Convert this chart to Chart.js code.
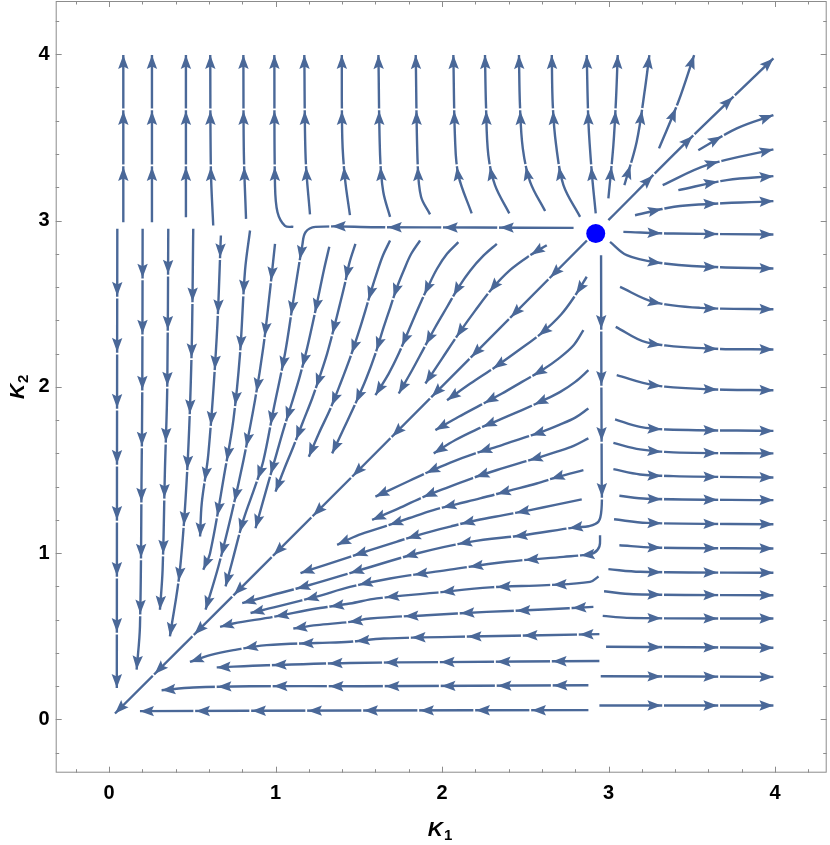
<!DOCTYPE html>
<html>
<head>
<meta charset="utf-8">
<script src="https://cdn.jsdelivr.net/npm/chart.js@4.4.1/dist/chart.umd.min.js"></script>
<style>
  html, body { margin: 0; padding: 0; background: #fff; }
</style>
</head>
<body>
<canvas id="chartStream" width="830" height="845"></canvas>
<script>
// ---- data ----
const xTicks = [0, 1, 2, 3, 4];
const yTicks = [0, 1, 2, 3, 4];
const minorStep = 0.2;
const fixedPoint = [{ x: 2.923, y: 2.922 }];

// main diagonal, out of the fixed point both ways
const diagonalLines = [
  [[2.87, 2.88], [1.5, 1.5], [0.036, 0.036]],
  [[2.999, 3.002], [3.47, 3.474], [3.99, 3.975]],
];

// above the diagonal, flowing down toward the origin
const downLines = [
  [[0.05, 2.95], [0.048, 1.5], [0.047, 0.19]],
  [[0.202, 2.95], [0.2, 2.0], [0.196, 1.5], [0.186, 0.56], [0.166, 0.3]],
  [[0.356, 2.95], [0.35, 2.0], [0.336, 1.5], [0.322, 0.9], [0.306, 0.66]],
  [[0.506, 2.95], [0.496, 2.2], [0.47, 1.5], [0.426, 0.9], [0.366, 0.5]],
  [[0.672, 2.91], [0.647, 2.3], [0.597, 1.6], [0.557, 1.3], [0.547, 1.1]],
  [[0.847, 2.94], [0.817, 2.7], [0.787, 2.2], [0.747, 1.8], [0.697, 1.5], [0.607, 1.0], [0.566, 0.9]],
  [[0.997, 2.86], [0.967, 2.58], [0.927, 2.24], [0.877, 1.92], [0.807, 1.556], [0.737, 1.24], [0.657, 0.92], [0.58, 0.66]],
  [[2.79, 2.956], [2.2, 2.958], [1.6, 2.96], [1.24, 2.962], [1.18, 2.93], [1.161, 2.852], [1.107, 2.52], [1.057, 2.2],
   [0.987, 1.858], [0.927, 1.556], [0.877, 1.4], [0.807, 1.2], [0.74, 0.95], [0.7, 0.8]],
  [[1.323, 2.842], [1.29, 2.7], [1.257, 2.541], [1.225, 2.39], [1.187, 2.221], [1.145, 2.06], [1.097, 1.9],
   [1.05, 1.75], [1.007, 1.6], [0.95, 1.4], [0.88, 1.15]],
  [[1.48, 2.86], [1.445, 2.75], [1.417, 2.622], [1.385, 2.49], [1.35, 2.35], [1.31, 2.2], [1.265, 2.06],
   [1.22, 1.93], [1.165, 1.79], [1.107, 1.64], [1.05, 1.5], [1.0, 1.37]],
  [[1.688, 2.88], [1.645, 2.79], [1.61, 2.69], [1.575, 2.58], [1.54, 2.46], [1.5, 2.33], [1.45, 2.18],
   [1.39, 2.02], [1.33, 1.87], [1.26, 1.72], [1.2, 1.58]],
  [[1.868, 2.88], [1.815, 2.8], [1.77, 2.7], [1.73, 2.6], [1.69, 2.48], [1.65, 2.36], [1.6, 2.2],
   [1.545, 2.05], [1.48, 1.9], [1.41, 1.75], [1.34, 1.6]],
  [[2.098, 2.87], [2.03, 2.8], [1.97, 2.71], [1.915, 2.6], [1.86, 2.48], [1.8, 2.34], [1.74, 2.2],
   [1.68, 2.08], [1.6, 1.95]],
  [[2.329, 2.86], [2.25, 2.79], [2.17, 2.7], [2.1, 2.6], [2.03, 2.48], [1.96, 2.36], [1.89, 2.23],
   [1.82, 2.1], [1.74, 1.96]],
  [[2.629, 2.852], [2.52, 2.785], [2.408, 2.702], [2.3, 2.59], [2.2, 2.46], [2.1, 2.32], [2.0, 2.17], [1.9, 2.02]],
];

// below the diagonal, flowing left toward the origin
const leftLines = [
  [[2.869, 2.662], [2.8, 2.55], [2.715, 2.435], [2.6, 2.325], [2.46, 2.22], [2.32, 2.12], [2.17, 2.02], [2.03, 1.92]],
  [[2.849, 2.341], [2.79, 2.25], [2.7, 2.17], [2.6, 2.1], [2.48, 2.03], [2.36, 1.96], [2.23, 1.89], [2.1, 1.82], [1.96, 1.74]],
  [[2.879, 2.1], [2.8, 2.03], [2.71, 1.97], [2.6, 1.915], [2.48, 1.86], [2.34, 1.8], [2.2, 1.74], [2.08, 1.68], [1.95, 1.6]],
  [[2.879, 1.87], [2.8, 1.815], [2.7, 1.77], [2.6, 1.73], [2.48, 1.69], [2.36, 1.65], [2.2, 1.6], [2.05, 1.545],
   [1.9, 1.48], [1.75, 1.41], [1.6, 1.34]],
  [[2.879, 1.69], [2.79, 1.645], [2.69, 1.61], [2.58, 1.575], [2.46, 1.54], [2.33, 1.5], [2.18, 1.45], [2.02, 1.39],
   [1.87, 1.33], [1.72, 1.26], [1.58, 1.2]],
  [[2.849, 1.499], [2.7, 1.46], [2.568, 1.419], [2.4, 1.375], [2.228, 1.329], [2.09, 1.295], [1.948, 1.259],
   [1.8, 1.21], [1.648, 1.158], [1.5, 1.11], [1.37, 1.05]],
  [[2.839, 1.323], [2.68, 1.29], [2.529, 1.259], [2.37, 1.229], [2.208, 1.198], [2.05, 1.16], [1.888, 1.118],
   [1.73, 1.07], [1.568, 1.018], [1.447, 0.978], [1.3, 0.93], [1.15, 0.88]],
  [[2.955, 2.792], [2.957, 2.0], [2.959, 1.42], [2.958, 1.27], [2.94, 1.19], [2.88, 1.162], [2.8, 1.155], [2.488, 1.108],
   [2.168, 1.068], [1.848, 0.998], [1.507, 0.898], [1.2, 0.807], [0.95, 0.74], [0.8, 0.7]],
  [[2.949, 1.108], [2.945, 1.04], [2.91, 1.0], [2.849, 0.988], [2.729, 0.978], [2.389, 0.948], [2.028, 0.898],
   [1.688, 0.848], [1.447, 0.797], [1.24, 0.737], [0.92, 0.657], [0.85, 0.64]],
  [[2.94, 0.86], [2.889, 0.827], [2.629, 0.808], [2.288, 0.794], [1.948, 0.761], [1.608, 0.728], [1.447, 0.697],
   [1.247, 0.667], [0.987, 0.617], [0.747, 0.577], [0.667, 0.557]],
  [[2.909, 0.677], [2.609, 0.661], [2.268, 0.647], [1.908, 0.627], [1.568, 0.607], [1.447, 0.587], [1.247, 0.567], [1.107, 0.547]],
  [[2.945, 0.513], [2.25, 0.5], [1.65, 0.487], [1.447, 0.467], [1.25, 0.46], [0.947, 0.447], [0.747, 0.417], [0.607, 0.387], [0.486, 0.346]],
  [[2.945, 0.352], [2.0, 0.345], [1.447, 0.34], [0.947, 0.326], [0.647, 0.313]],
  [[2.879, 0.206], [1.5, 0.2], [0.847, 0.2], [0.506, 0.192], [0.316, 0.176]],
  [[2.879, 0.056], [1.5, 0.054], [0.186, 0.05]],
];

// above K2 = 2.92, flowing up
const upLines = [
  [[0.086, 2.99], [0.086, 3.995]],
  [[0.258, 2.99], [0.258, 3.995]],
  [[0.462, 3.02], [0.462, 3.995]],
  [[0.626, 2.97], [0.612, 3.3], [0.608, 3.995]],
  [[0.823, 3.01], [0.81, 3.4], [0.807, 3.995]],
  [[1.107, 2.962], [1.057, 2.968], [1.012, 3.05], [0.997, 3.213], [0.993, 3.995]],
  [[1.207, 3.037], [1.181, 3.373], [1.173, 3.995]],
  [[1.447, 3.032], [1.417, 3.253], [1.401, 3.494], [1.398, 3.995]],
  [[1.688, 3.022], [1.647, 3.173], [1.628, 3.393], [1.618, 3.995]],
  [[1.928, 3.037], [1.874, 3.143], [1.854, 3.333], [1.842, 3.995]],
  [[2.178, 3.043], [2.098, 3.273], [2.078, 3.494], [2.068, 3.995]],
  [[2.404, 3.043], [2.318, 3.213], [2.278, 3.393], [2.264, 3.694], [2.258, 3.995]],
  [[2.619, 3.057], [2.529, 3.233], [2.485, 3.434], [2.468, 3.694], [2.462, 3.995]],
  [[2.829, 3.022], [2.729, 3.213], [2.685, 3.454], [2.665, 3.694], [2.659, 3.995]],
  [[2.923, 3.043], [2.899, 3.293], [2.879, 3.594], [2.869, 3.995]],
  [[2.999, 3.133], [3.029, 3.454], [3.045, 3.734], [3.055, 3.995]],
  [[3.095, 3.213], [3.169, 3.474], [3.219, 3.794], [3.245, 3.995]],
  [[3.303, 3.434], [3.419, 3.714], [3.514, 3.995]],
];

// right of K1 = 2.92, flowing right
const rightLines = [
  [[3.539, 3.423], [3.77, 3.554], [3.99, 3.634]],
  [[3.325, 3.213], [3.59, 3.333], [3.99, 3.428]],
  [[3.419, 3.183], [3.71, 3.243], [3.99, 3.267]],
  [[3.159, 3.032], [3.429, 3.087], [3.99, 3.117]],
  [[3.089, 2.932], [3.389, 2.922], [3.99, 2.916]],
  [[3.009, 2.872], [3.109, 2.792], [3.289, 2.748], [3.59, 2.722], [3.99, 2.712]],
  [[3.069, 2.601], [3.269, 2.511], [3.55, 2.475], [3.99, 2.467]],
  [[3.043, 2.361], [3.229, 2.267], [3.59, 2.231], [3.99, 2.225]],
  [[3.049, 2.07], [3.269, 2.01], [3.59, 1.986], [3.99, 1.98]],
  [[3.039, 1.804], [3.189, 1.759], [3.35, 1.744], [3.99, 1.735]],
  [[3.029, 1.663], [3.189, 1.624], [3.389, 1.606], [3.99, 1.6]],
  [[3.029, 1.505], [3.189, 1.473], [3.389, 1.463], [3.99, 1.455]],
  [[3.065, 1.345], [3.229, 1.327], [3.99, 1.319]],
  [[3.033, 1.204], [3.229, 1.182], [3.99, 1.174]],
  [[3.065, 1.048], [3.269, 1.034], [3.99, 1.028]],
  [[2.999, 0.904], [3.189, 0.888], [3.99, 0.882]],
  [[2.973, 0.771], [3.149, 0.753], [3.99, 0.747]],
  [[2.965, 0.623], [3.109, 0.611], [3.99, 0.607]],
  [[2.985, 0.437], [3.99, 0.431]],
  [[2.953, 0.26], [3.99, 0.256]],
  [[2.945, 0.084], [3.99, 0.084]],
];

const STREAM = "#4a6898";
const FONT = '"Liberation Sans", Arial, sans-serif';

// sample the drawn bezier path of a line dataset (pixel space)
function samplePath(pts) {
  const out = [{ x: pts[0].x, y: pts[0].y }];
  for (let i = 0; i < pts.length - 1; i++) {
    const a = pts[i], b = pts[i + 1];
    const c1x = a.cp2x ?? a.x, c1y = a.cp2y ?? a.y;
    const c2x = b.cp1x ?? b.x, c2y = b.cp1y ?? b.y;
    for (let k = 1; k <= 24; k++) {
      const t = k / 24, u = 1 - t;
      out.push({
        x: u * u * u * a.x + 3 * u * u * t * c1x + 3 * u * t * t * c2x + t * t * t * b.x,
        y: u * u * u * a.y + 3 * u * u * t * c1y + 3 * u * t * t * c2y + t * t * t * b.y,
      });
    }
  }
  return out;
}

function drawArrow(ctx, x, y, dx, dy, last) {
  const nx = -dy, ny = dx;
  const L = 14, W = 5.2, N = 11.5;
  if (!last) {
    // small break in the line just past the tip, as in the original
    ctx.save();
    ctx.strokeStyle = "#fff";
    ctx.lineWidth = 4;
    ctx.beginPath();
    ctx.moveTo(x + 0.8 * dx, y + 0.8 * dy);
    ctx.lineTo(x + 2.6 * dx, y + 2.6 * dy);
    ctx.stroke();
    ctx.restore();
  }
  ctx.beginPath();
  ctx.moveTo(x, y);
  ctx.lineTo(x - L * dx + W * nx, y - L * dy + W * ny);
  ctx.lineTo(x - N * dx, y - N * dy);
  ctx.lineTo(x - L * dx - W * nx, y - L * dy - W * ny);
  ctx.closePath();
  ctx.fill();
}

// arrowheads every ~56px, counted back from the end of each streamline
const streamArrows = {
  id: "streamArrows",
  afterDatasetsDraw(chart) {
    const ctx = chart.ctx;
    ctx.save();
    ctx.fillStyle = STREAM;
    chart.data.datasets.forEach((ds, i) => {
      if (!ds.arrows) return;
      const pts = chart.getDatasetMeta(i).data;
      if (pts.length < 2) return;
      const path = samplePath(pts);
      const cum = [0];
      for (let k = 1; k < path.length; k++) {
        cum.push(cum[k - 1] + Math.hypot(path[k].x - path[k - 1].x, path[k].y - path[k - 1].y));
      }
      const total = cum[cum.length - 1];
      for (let s = total; s > 18; s -= 56) {
        let k = 1;
        while (k < cum.length - 1 && cum[k] < s) k++;
        const seg = cum[k] - cum[k - 1] || 1;
        const f = (s - cum[k - 1]) / seg;
        const px = path[k - 1].x + f * (path[k].x - path[k - 1].x);
        const py = path[k - 1].y + f * (path[k].y - path[k - 1].y);
        const dx = path[k].x - path[k - 1].x, dy = path[k].y - path[k - 1].y;
        const len = Math.hypot(dx, dy) || 1;
        drawArrow(ctx, px, py, dx / len, dy / len, s === total);
      }
    });
    ctx.restore();
  },
};

// Mathematica-style frame with inward ticks on all four sides, plus axis titles
const frameTicks = {
  id: "frameTicks",
  afterDraw(chart) {
    const { ctx, chartArea: a, scales } = chart;
    const sx = scales.x, sy = scales.y;
    ctx.save();
    ctx.strokeStyle = "#8c8c8c";
    ctx.lineWidth = 1;
    ctx.strokeRect(a.left + 0.5, a.top + 0.5, a.right - a.left - 1, a.bottom - a.top - 1);
    ctx.beginPath();
    for (let v = -1; v <= 22; v++) {
      const val = v * minorStep;
      const len = v % 5 === 0 ? 6 : 3.5;
      const px = Math.round(sx.getPixelForValue(val)) + 0.5;
      if (px > a.left + 1 && px < a.right - 1) {
        ctx.moveTo(px, a.bottom); ctx.lineTo(px, a.bottom - len);
        ctx.moveTo(px, a.top); ctx.lineTo(px, a.top + len);
      }
      const py = Math.round(sy.getPixelForValue(val)) + 0.5;
      if (py > a.top + 1 && py < a.bottom - 1) {
        ctx.moveTo(a.left, py); ctx.lineTo(a.left + len, py);
        ctx.moveTo(a.right, py); ctx.lineTo(a.right - len, py);
      }
    }
    ctx.stroke();

    // axis titles K1 / K2
    const drawTitle = (sub) => {
      ctx.font = "italic bold 21px " + FONT;
      const wK = ctx.measureText("K").width;
      ctx.font = "bold 15px " + FONT;
      const wS = ctx.measureText(sub).width;
      const x0 = -(wK + wS + 1) / 2;
      ctx.fillStyle = "#000";
      ctx.textBaseline = "alphabetic";
      ctx.textAlign = "left";
      ctx.font = "italic bold 21px " + FONT;
      ctx.fillText("K", x0, 0);
      ctx.font = "bold 15px " + FONT;
      ctx.fillText(sub, x0 + wK + 1, 4);
    };
    ctx.save();
    ctx.translate(sx.getPixelForValue(2) - 2, 836);
    drawTitle("1");
    ctx.restore();
    ctx.save();
    ctx.translate(24, sy.getPixelForValue(2));
    ctx.rotate(-Math.PI / 2);
    drawTitle("2");
    ctx.restore();
    ctx.restore();
  },
};

const toPoints = (line) => line.map(([x, y]) => ({ x, y }));
const streamSets = [...diagonalLines, ...downLines, ...leftLines, ...upLines, ...rightLines].map((line) => ({
  data: toPoints(line),
  showLine: true,
  borderColor: STREAM,
  borderWidth: 2.4,
  pointRadius: 0,
  tension: 0.35,
  fill: false,
  arrows: true,
}));

const tickFont = { family: FONT, size: 20, weight: "bold" };
const noPad = (s) => { s.paddingTop = 0; s.paddingBottom = 0; s.paddingLeft = 0; s.paddingRight = 0; };

new Chart(document.getElementById("chartStream"), {
  type: "scatter",
  data: {
    datasets: [
      { data: fixedPoint, pointRadius: 9.5, backgroundColor: "#0000ff", borderWidth: 0 },
      ...streamSets,
    ],
  },
  options: {
    responsive: false,
    animation: false,
    devicePixelRatio: 1,
    events: [],
    layout: { autoPadding: false, padding: { top: 1, right: 3.3, left: 0, bottom: 0 } },
    plugins: { legend: { display: false }, tooltip: { enabled: false } },
    scales: {
      x: {
        type: "linear",
        min: -0.32,
        max: 4.31,
        grid: { display: false, drawTicks: false },
        border: { display: false },
        afterBuildTicks: (s) => { s.ticks = xTicks.map((v) => ({ value: v })); },
        afterFit: (s) => { s.height = 72.3; noPad(s); },
        ticks: { color: "#000", font: tickFont, padding: 9, maxRotation: 0, autoSkip: false },
      },
      y: {
        type: "linear",
        min: -0.32,
        max: 4.32,
        grid: { display: false, drawTicks: false },
        border: { display: false },
        afterBuildTicks: (s) => { s.ticks = yTicks.map((v) => ({ value: v })); },
        afterFit: (s) => { s.width = 55.7; noPad(s); },
        ticks: { color: "#000", font: tickFont, padding: 6, autoSkip: false },
      },
    },
  },
  plugins: [streamArrows, frameTicks],
});
</script>
</body>
</html>
